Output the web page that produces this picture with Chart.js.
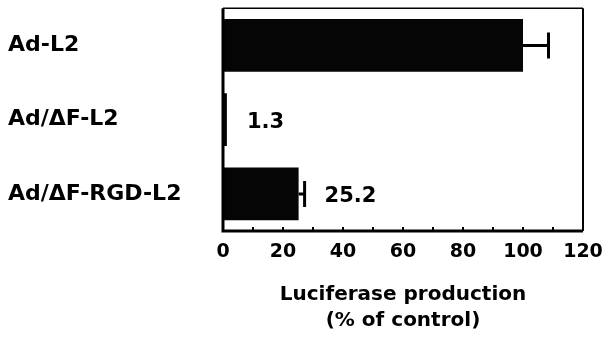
<!DOCTYPE html>
<html>
<head>
<meta charset="utf-8">
<script src="https://cdn.jsdelivr.net/npm/chart.js@4/dist/chart.umd.min.js"></script>
<style>
  html, body { margin: 0; padding: 0; background: #fff; }
  #wrap { width: 613px; height: 338px; }
</style>
</head>
<body>
<div id="wrap"><canvas id="lucChart" width="613" height="338"></canvas></div>
<script>
// dados
const categories = ['Ad-L2', 'Ad/\u0394F-L2', 'Ad/\u0394F-RGD-L2'];
const values = [100, 1.3, 25.2];
const errors = [8.5, 0, 2];
const valueLabels = ['', '1.3', '25.2'];
const xMin = 0, xMax = 120, xStep = 10, labelStep = 20;
const axisTitle = ['Luciferase production', '(% of control)'];

const FONT = "'DejaVu Sans', sans-serif";

// barras de erro, rótulos de valor e moldura
const extrasPlugin = {
    id: 'extras',
    afterDatasetsDraw(chart) {
        const { ctx, chartArea: a, scales: { x, y } } = chart;
        ctx.save();
        ctx.strokeStyle = '#000';
        ctx.fillStyle = '#000';

        values.forEach((v, i) => {
            const yc = y.getPixelForValue(i);
            const xEnd = x.getPixelForValue(v + errors[i]);
            if (errors[i] > 0) {
                ctx.lineWidth = 3;
                ctx.beginPath();
                ctx.moveTo(x.getPixelForValue(v), yc);
                ctx.lineTo(xEnd, yc);
                ctx.moveTo(xEnd, yc - 13);
                ctx.lineTo(xEnd, yc + 13);
                ctx.stroke();
            }
            if (valueLabels[i]) {
                ctx.font = `bold 21px ${FONT}`;
                ctx.textBaseline = 'middle';
                ctx.textAlign = 'left';
                ctx.fillText(valueLabels[i], xEnd + 20, yc + 3);
            }
        });

        // moldura: esquerda e base grossas
        ctx.lineWidth = 1.5;
        ctx.beginPath();
        ctx.moveTo(a.left, a.top);
        ctx.lineTo(a.right, a.top);
        ctx.stroke();
        ctx.lineWidth = 2;
        ctx.beginPath();
        ctx.moveTo(a.right, a.top);
        ctx.lineTo(a.right, a.bottom);
        ctx.stroke();
        ctx.lineWidth = 3;
        ctx.beginPath();
        ctx.moveTo(a.left, a.top);
        ctx.lineTo(a.left, a.bottom);
        ctx.lineTo(a.right, a.bottom);
        ctx.stroke();

        // marcas pequenas voltadas para dentro
        ctx.lineWidth = 2;
        x.ticks.forEach(t => {
            const px = x.getPixelForValue(t.value);
            ctx.beginPath();
            ctx.moveTo(px, a.bottom);
            ctx.lineTo(px, a.bottom - 4);
            ctx.stroke();
        });
        ctx.restore();
    }
};

new Chart(document.getElementById('lucChart'), {
    type: 'bar',
    data: {
        labels: categories,
        datasets: [{
            data: values,
            backgroundColor: '#050505',
            borderWidth: 0,
            barPercentage: 0.71,
            categoryPercentage: 1
        }]
    },
    options: {
        indexAxis: 'y',
        responsive: false,
        animation: false,
        layout: { padding: { left: 8, right: 30, top: 4, bottom: 0 } },
        plugins: { legend: { display: false }, tooltip: { enabled: false } },
        scales: {
            y: {
                grid: { display: false, drawTicks: false },
                border: { display: false },
                afterFit(scale) { scale.width = 215; },
                ticks: {
                    crossAlign: 'far',
                    color: '#000',
                    padding: 0,
                    font: { family: FONT, weight: 'bold', size: 22, lineHeight: 0.75 }
                }
            },
            x: {
                min: xMin,
                max: xMax,
                grid: { display: false, drawTicks: false },
                border: { display: false },
                afterFit(scale) { scale.height = 107; },
                ticks: {
                    stepSize: xStep,
                    autoSkip: false,
                    maxRotation: 0,
                    color: '#000',
                    padding: 10,
                    font: { family: FONT, weight: 'bold', size: 19 },
                    callback: (v) => (v % labelStep === 0 ? v : '')
                },
                title: {
                    display: true,
                    text: axisTitle,
                    color: '#000',
                    padding: { top: 14 },
                    font: { family: FONT, weight: 'bold', size: 20, lineHeight: 1.3 }
                }
            }
        }
    },
    plugins: [extrasPlugin]
});
</script>
</body>
</html>
